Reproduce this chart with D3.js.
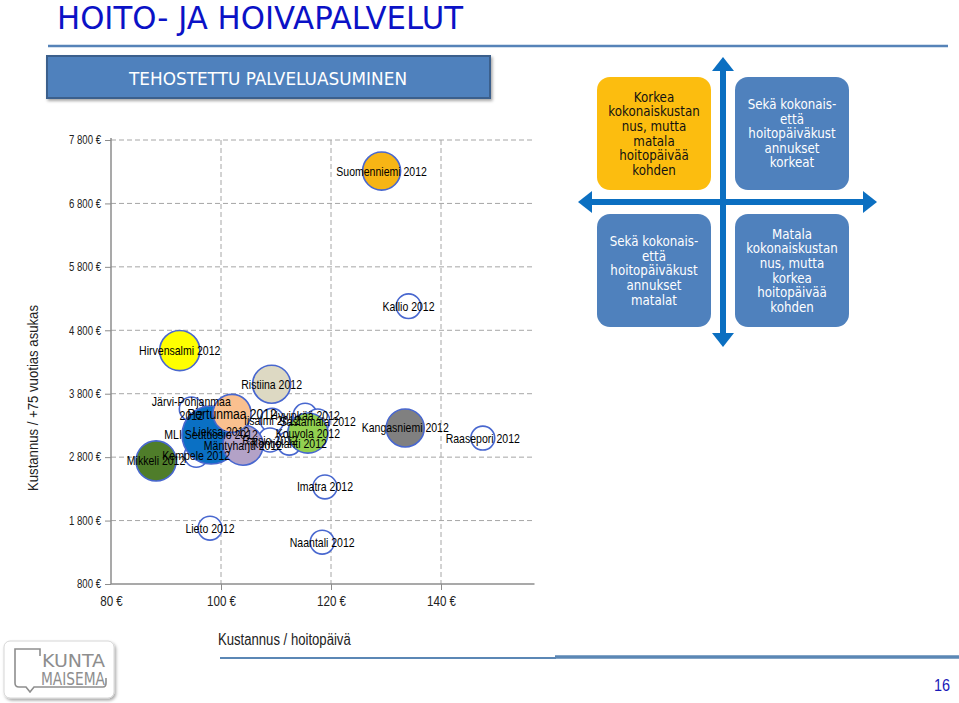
<!DOCTYPE html>
<html>
<head>
<meta charset="utf-8">
<script src="https://cdn.jsdelivr.net/npm/d3@7"></script>
<style>
  body { margin: 0; background: #fff; }
  svg { display: block; }
  .lbl { font-family: "Liberation Sans", Arial, sans-serif; }
  .quad { font-family: "DejaVu Sans", sans-serif; }
</style>
</head>
<body>
<svg id="chart" width="959" height="703"></svg>
<script>
// ---- data ----
const xTicks = [80, 100, 120, 140];
const yTicks = [800, 1800, 2800, 3800, 4800, 5800, 6800, 7800];

const municipalities = [
  "Suomenniemi 2012", "Kallio 2012", "Hirvensalmi 2012", "Ristiina 2012",
  "Järvi-Pohjanmaa 2012", "Pertunmaa 2012", "Lieksa 2012", "MLI Seutuosio 2012",
  "Mäntyharju 2012", "Kempele 2012", "Mikkeli 2012", "Iisalmi 2012",
  "Hyvinkää 2012", "Sastamala 2012", "Kouvola 2012", "Raisio 2012",
  "Kontiolahti 2012", "Kangasniemi 2012", "Raasepori 2012", "Imatra 2012",
  "Lieto 2012", "Naantali 2012"
];
// Kustannus / hoitopäivä (€)
const costPerDay = [129.2, 134.1, 92.5, 109.2, 94.6, 102.0, 100.0, 98.2,
  104.0, 95.5, 88.2, 109.3, 115.3, 117.6, 115.8, 108.9,
  112.4, 133.5, 147.6, 118.9, 98.0, 118.4];
// Kustannus / +75 vuotias asukas (€)
const costPerResident = [7310, 5180, 4480, 3950, 3560, 3490, 3210, 3150,
  2990, 2830, 2740, 3380, 3460, 3370, 3180, 3070,
  3020, 3260, 3100, 2330, 1680, 1460];
// bubble size
const bubbleSize = [43, 18, 48, 43, 17, 43, 17, 100,
  48, 17, 48, 17, 17, 17, 48, 17,
  17, 43, 17, 17, 17, 17];

const bubbleFill = {
  "Suomenniemi 2012": "#f7b515",
  "Hirvensalmi 2012": "#ffff00",
  "Ristiina 2012": "#ddd9c3",
  "Pertunmaa 2012": "#fac08f",
  "MLI Seutuosio 2012": "#0a70c4",
  "Mäntyharju 2012": "#b3a2c7",
  "Mikkeli 2012": "#4f7d2a",
  "Kouvola 2012": "#92d050",
  "Kangasniemi 2012": "#808080"
};

const quadrants = [
  { lines: ["Korkea", "kokonaiskustan", "nus, mutta", "matala", "hoitopäivää", "kohden"], fill: "#fcbd0f", color: "#111" },
  { lines: ["Sekä kokonais-", "että", "hoitopäiväkust", "annukset", "korkeat"], fill: "#4f81bd", color: "#fff" },
  { lines: ["Sekä kokonais-", "että", "hoitopäiväkust", "annukset", "matalat"], fill: "#4f81bd", color: "#fff" },
  { lines: ["Matala", "kokonaiskustan", "nus, mutta", "korkea", "hoitopäivää", "kohden"], fill: "#4f81bd", color: "#fff" }
];

// horizontally narrow a text around its own x (the chart fonts are condensed)
function squeeze(sel, k) {
  sel.each(function () {
    const t = d3.select(this);
    const x0 = +t.attr("x") || 0;
    t.attr("transform", `translate(${x0},0) scale(${k},1) translate(${-x0},0)`);
  });
}

const svg = d3.select("#chart");
const defs = svg.append("defs");
const sh = defs.append("filter").attr("id", "shadow").attr("x", "-10%").attr("y", "-10%").attr("width", "130%").attr("height", "140%");
sh.append("feDropShadow").attr("dx", 1.5).attr("dy", 2).attr("stdDeviation", 1.5).attr("flood-color", "#000").attr("flood-opacity", 0.35);

// ---- slide header ----
svg.append("text")
  .attr("x", 57).attr("y", 29)
  .attr("textLength", 406).attr("lengthAdjust", "spacingAndGlyphs")
  .style("font-family", "DejaVu Sans, sans-serif")
  .style("font-size", "32px")
  .attr("fill", "#0b12c6")
  .text("HOITO- JA HOIVAPALVELUT");

svg.append("line")
  .attr("x1", 48).attr("x2", 948).attr("y1", 46).attr("y2", 46)
  .attr("stroke", "#5683b8").attr("stroke-width", 2.5);

svg.append("rect")
  .attr("x", 47).attr("y", 56).attr("width", 443).attr("height", 42)
  .attr("fill", "#4f81bd").attr("stroke", "#3a5e8c").attr("stroke-width", 2)
  .attr("filter", "url(#shadow)");
svg.append("text")
  .attr("x", 268).attr("y", 85).attr("text-anchor", "middle")
  .attr("textLength", 278).attr("lengthAdjust", "spacingAndGlyphs")
  .style("font-family", "DejaVu Sans, sans-serif")
  .style("font-size", "17px").attr("fill", "#fff")
  .text("TEHOSTETTU PALVELUASUMINEN");

// ---- bubble chart ----
const x = d3.scaleLinear().domain([80, 157]).range([111, 534.5]);
const y = d3.scaleLinear().domain([800, 7800]).range([584, 140]);
const r = d3.scaleSqrt().domain([0, 100]).range([0, 29]);

const loc = d3.formatLocale({ decimal: ",", thousands: "\u00a0", grouping: [3], currency: ["", "\u00a0€"] });
const euro = loc.format("$,.0f");

const plot = svg.append("g");

// grid
plot.append("g").selectAll("line")
  .data(yTicks.slice(1))
  .join("line")
  .attr("x1", x(80)).attr("x2", x(157))
  .attr("y1", d => y(d)).attr("y2", d => y(d))
  .attr("stroke", "#a6a6a6").attr("stroke-dasharray", "5,3");
plot.append("g").selectAll("line")
  .data(xTicks.slice(1))
  .join("line")
  .attr("x1", d => x(d)).attr("x2", d => x(d))
  .attr("y1", y(7800)).attr("y2", y(800))
  .attr("stroke", "#a6a6a6").attr("stroke-dasharray", "5,3");

// axes
const yAxis = plot.append("g")
  .attr("transform", `translate(${x(80)},0)`)
  .call(d3.axisLeft(y).tickValues(yTicks).tickSize(6).tickPadding(4).tickFormat(euro));
const xAxis = plot.append("g")
  .attr("transform", `translate(0,${y(800)})`)
  .call(d3.axisBottom(x).tickValues(xTicks).tickSize(6).tickPadding(6).tickFormat(euro));
[yAxis, xAxis].forEach(a => {
  a.select(".domain").attr("stroke", "#8c8c8c").attr("stroke-width", 1.5);
  a.selectAll(".tick line").attr("stroke", "#8c8c8c");
  a.selectAll("text").attr("class", "lbl").attr("fill", "#222");
});
yAxis.selectAll("text").style("font-size", "12px");
xAxis.selectAll("text").style("font-size", "14.5px");
squeeze(yAxis.selectAll("text"), 0.8);
squeeze(xAxis.selectAll("text"), 0.8);
xAxis.selectAll(".tick").filter(d => d === 80).select("line").remove();
xAxis.select(".domain").attr("d", `M${x(80)},0H${x(157)}`);
yAxis.select(".domain").attr("d", `M0,${y(800)}V${y(7800) - 2}`);

// bubbles
const pts = municipalities.map((name, i) => ({
  name, cx: costPerDay[i], cy: costPerResident[i], s: bubbleSize[i], fill: bubbleFill[name]
}));
const hollow = pts.filter(d => !d.fill);
const filled = pts.filter(d => d.fill).sort((a, b) => b.s - a.s);

plot.append("g").selectAll("circle")
  .data(hollow.concat(filled))
  .join("circle")
  .attr("cx", d => x(d.cx))
  .attr("cy", d => y(d.cy))
  .attr("r", d => r(d.s))
  .attr("fill", d => d.fill || "#fff")
  .attr("stroke", "#4867cf")
  .attr("stroke-width", 1.6);

const labels = plot.append("g").attr("class", "lbl").style("font-size", "13px").attr("fill", "#000");
pts.forEach(d => {
  const t = labels.append("text")
    .attr("x", x(d.cx)).attr("y", y(d.cy))
    .attr("text-anchor", "middle");
  if (d.name.startsWith("Järvi")) {
    t.append("tspan").attr("x", x(d.cx)).attr("dy", "-0.2em").text("Järvi-Pohjanmaa");
    t.append("tspan").attr("x", x(d.cx)).attr("dy", "1.05em").text("2012");
  } else {
    t.attr("dy", "0.35em").text(d.name);
    if (d.name.startsWith("Pertunmaa")) t.style("font-size", "15px");
  }
});
squeeze(labels.selectAll("text"), 0.81);

// axis titles
svg.append("text")
  .attr("transform", "translate(38,398) rotate(-90)")
  .attr("text-anchor", "middle")
  .attr("textLength", 186).attr("lengthAdjust", "spacingAndGlyphs")
  .style("font-family", "Liberation Sans, Arial, sans-serif").style("font-size", "14.5px")
  .attr("fill", "#222")
  .text("Kustannus / +75 vuotias asukas");
const xt = svg.append("text")
  .attr("class", "lbl")
  .attr("x", 218).attr("y", 645)
  .style("font-size", "16px").attr("fill", "#222")
  .text("Kustannus / hoitopäivä");
squeeze(xt, 0.82);

// ---- quadrant diagram ----
const q = svg.append("g");
const boxes = [
  { x: 597, y: 77 }, { x: 735, y: 77 }, { x: 597, y: 214 }, { x: 735, y: 214 }
];
const arrowCol = "#0b6fc1";
q.append("line").attr("x1", 723).attr("x2", 723).attr("y1", 68).attr("y2", 336)
  .attr("stroke", arrowCol).attr("stroke-width", 6);
q.append("line").attr("x1", 590).attr("x2", 866).attr("y1", 202).attr("y2", 202)
  .attr("stroke", arrowCol).attr("stroke-width", 6);
const heads = [
  "M723,57 L734,71 L712,71 Z",
  "M723,347 L734,333 L712,333 Z",
  "M877,202 L863,191 L863,213 Z",
  "M578,202 L592,191 L592,213 Z"
];
q.selectAll("path.head").data(heads).join("path").attr("class", "head")
  .attr("d", d => d).attr("fill", arrowCol);

quadrants.forEach((qd, i) => {
  const b = boxes[i];
  q.append("rect")
    .attr("x", b.x).attr("y", b.y).attr("width", 114).attr("height", 113)
    .attr("rx", 13).attr("fill", qd.fill);
  const n = qd.lines.length;
  const lh = 14.6;
  const top = b.y + 56.5 - (n - 1) * lh / 2;
  const cx = b.x + 57;
  const t = q.append("text").attr("class", "quad")
    .attr("x", cx)
    .attr("text-anchor", "middle").style("font-size", "13.5px").attr("fill", qd.color);
  qd.lines.forEach((ln, k) => {
    t.append("tspan").attr("x", cx).attr("y", top + k * lh + 4.8).text(ln);
  });
  squeeze(t, 0.88);
});

// ---- footer ----
svg.append("line").attr("x1", 220).attr("x2", 556).attr("y1", 658).attr("y2", 658)
  .attr("stroke", "#5b87b5").attr("stroke-width", 2);
svg.append("line").attr("x1", 555).attr("x2", 959).attr("y1", 657).attr("y2", 657)
  .attr("stroke", "#5b87b5").attr("stroke-width", 3.5);
const pn = svg.append("text")
  .attr("x", 950).attr("y", 691).attr("text-anchor", "end")
  .style("font-family", "Liberation Sans, sans-serif").style("font-size", "17px")
  .attr("fill", "#1a1ab8").text("16");
squeeze(pn, 0.85);

const logo = svg.append("g").attr("transform", "translate(4,641)");
logo.append("rect").attr("width", 110).attr("height", 57).attr("rx", 6)
  .attr("fill", "#fff").attr("stroke", "#d6d6d6").attr("filter", "url(#shadow)");
logo.append("path")
  .attr("d", "M36,15 L36,8 L11,8 L11,42 Q11,46 15,46 L22,46 L26,51 L30,46 L99,46 Q102,46 102,42 L102,37")
  .attr("fill", "none").attr("stroke", "#8e8e8e").attr("stroke-width", 1.6);
logo.append("text").attr("x", 38).attr("y", 26)
  .style("font-family", "DejaVu Sans Condensed, sans-serif").style("font-size", "18px")
  .attr("textLength", 63).attr("lengthAdjust", "spacingAndGlyphs").attr("fill", "#8e8e8e").text("KUNTA");
logo.append("text").attr("x", 37).attr("y", 44)
  .style("font-family", "DejaVu Sans Condensed, sans-serif").style("font-size", "18px")
  .attr("textLength", 64).attr("lengthAdjust", "spacingAndGlyphs").attr("fill", "#8e8e8e").text("MAISEMA");
</script>
</body>
</html>
